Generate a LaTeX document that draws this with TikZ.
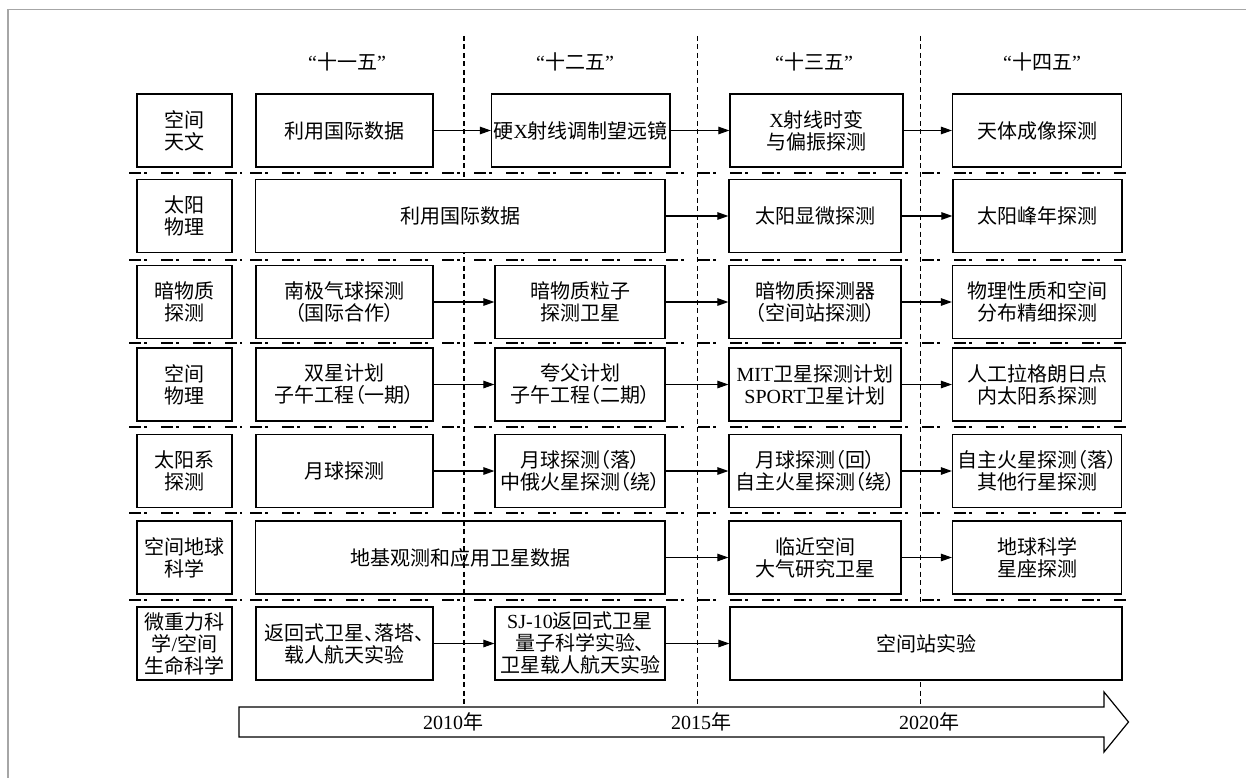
\documentclass[tikz,border=0pt]{standalone}
\usepackage{fontspec}
\setmainfont{Noto Sans CJK SC}[RawFeature={+palt}]
\newfontfamily\lat{Liberation Serif}
\usetikzlibrary{arrows.meta}
\newcommand{\fs}{\fontsize{20}{22}\selectfont}
\tikzset{
  box/.style={draw, fill=white, line width=1.2pt, minimum height=73pt, inner sep=0pt, align=center, font=\fs},
  cat/.style={box, minimum width=95pt},
  cA/.style={box, minimum width=177pt},
  cB/.style={box, minimum width=170pt},
  cC/.style={box, minimum width=172pt},
  cD/.style={box, minimum width=169pt},
  arr/.style={line width=1.1pt, -{Triangle[length=11pt,width=7.5pt]}},
  sep/.style={line width=1.1pt, dash pattern=on 12pt off 3pt on 3pt off 14pt},
  vdash/.style={line width=1.1pt, dash pattern=on 5pt off 3.5pt},
  hdr/.style={font=\fs, inner sep=0pt},
}
\begin{document}
\begin{tikzpicture}[x=1pt,y=-1pt]
\useasboundingbox (0,0) rectangle (1246,778);
\draw[black!35, line width=1.5pt] (8,778) -- (8,9.5) -- (1246,9.5);

% headers
\node[hdr] (h1) at (347,62) {{\lat “}十一五{\lat ”}};
\node[hdr] (h2) at (575,62) {{\lat “}十二五{\lat ”}};
\node[hdr] (h3) at (814,62) {{\lat “}十三五{\lat ”}};
\node[hdr] (h4) at (1042,62) {{\lat “}十四五{\lat ”}};

% vertical dashed lines
\coordinate (v1t) at (464,36);   \coordinate (v1b) at (464,707);
\coordinate (v2t) at (697.6,36); \coordinate (v2b) at (697.6,707);
\coordinate (v3t) at (920.6,36); \coordinate (v3b) at (920.6,707);
\draw[vdash] (v1t) -- (v1b);
\draw[vdash] (v2t) -- (v2b);
\draw[vdash] (v3t) -- (v3b);

% separators
\foreach \yy/\n in {173/a,260/b,343/c,427/d,513/e,600/f}{
  \coordinate (sl\n) at (129,\yy); \coordinate (sm\n) at (242,\yy);
  \coordinate (sn\n) at (250,\yy); \coordinate (sr\n) at (1128,\yy);
  \draw[sep] (sl\n) -- (sm\n);
  \draw[sep] (sn\n) -- (sr\n);
}

% row 1
\node[cat] (k1) at (184.5,130.5) {空间\\天文};
\node[cA] (r1a) at (344.5,130.5) {利用国际数据};
\node[box, minimum width=178.5pt] (r1b) at (580.75,130.5) {硬{\lat X}射线调制望远镜};
\node[cC, minimum width=173pt] (r1c) at (816.5,130.5) {{\lat X}射线时变\\与偏振探测};
\node[cD] (r1d) at (1037,130.5) {天体成像探测};

% row 2
\node[cat] (k2) at (184.5,216) {太阳\\物理};
\node[box, minimum width=409.5pt] (r2a) at (460.25,216) {利用国际数据};
\node[cC] (r2c) at (815,216) {太阳显微探测};
\node[cD] (r2d) at (1037.5,216) {太阳峰年探测};

% row 3
\node[cat] (k3) at (184.5,302) {暗物质\\探测};
\node[cA] (r3a) at (344.5,302) {南极气球探测\\（国际合作）};
\node[cB] (r3b) at (580,302) {暗物质粒子\\探测卫星};
\node[cC] (r3c) at (815,302) {暗物质探测器\\（空间站探测）};
\node[cD] (r3d) at (1037,302) {物理性质和空间\\分布精细探测};

% row 4
\node[cat] (k4) at (184.5,384.5) {空间\\物理};
\node[cA] (r4a) at (344.5,384.5) {双星计划\\子午工程（一期）};
\node[cB] (r4b) at (580,384.5) {夸父计划\\子午工程（二期）};
\node[cC] (r4c) at (815,384.5) {{\lat MIT}卫星探测计划\\{\lat SPORT}卫星计划};
\node[cD] (r4d) at (1037,384.5) {人工拉格朗日点\\内太阳系探测};

% row 5
\node[cat] (k5) at (184.5,471) {太阳系\\探测};
\node[cA] (r5a) at (344.5,471) {月球探测};
\node[cB] (r5b) at (580,471) {月球探测（落）\\中俄火星探测（绕）};
\node[cC] (r5c) at (815,471) {月球探测（回）\\自主火星探测（绕）};
\node[cD] (r5d) at (1037,471) {自主火星探测（落）\\其他行星探测};

% row 6
\node[cat] (k6) at (184.5,557.5) {空间地球\\科学};
\node[box, fill=none, minimum width=409.5pt] (r6a) at (460.25,557.5) {地基观测和应用卫星数据};
\node[cC] (r6c) at (815,557.5) {临近空间\\大气研究卫星};
\node[cD] (r6d) at (1037,557.5) {地球科学\\星座探测};

% row 7
\node[cat] (k7) at (184.5,643.5) {微重力科\\学{\lat /}空间\\生命科学};
\node[cA] (r7a) at (344.5,643.5) {返回式卫星、落塔、\\载人航天实验};
\node[cB] (r7b) at (580,643.5) {{\lat SJ-10}返回式卫星\\量子科学实验、\\卫星载人航天实验};
\node[box, minimum width=392pt] (r7c) at (926,643.5) {空间站实验};

% arrows
\draw[arr] (r1a.east) -- (r1b.west);
\draw[arr] (r1b.east) -- (r1c.west);
\draw[arr] (r1c.east) -- (r1d.west);
\draw[arr] (r2a.east) -- (r2c.west);
\draw[arr] (r2c.east) -- (r2d.west);
\draw[arr] (r3a.east) -- (r3b.west);
\draw[arr] (r3b.east) -- (r3c.west);
\draw[arr] (r3c.east) -- (r3d.west);
\draw[arr] (r4a.east) -- (r4b.west);
\draw[arr] (r4b.east) -- (r4c.west);
\draw[arr] (r4c.east) -- (r4d.west);
\draw[arr] (r5a.east) -- (r5b.west);
\draw[arr] (r5b.east) -- (r5c.west);
\draw[arr] (r5c.east) -- (r5d.west);
\draw[arr] (r6a.east) -- (r6c.west);
\draw[arr] (r6c.east) -- (r6d.west);
\draw[arr] (r7a.east) -- (r7b.west);
\draw[arr] (r7b.east) -- (r7c.west);

% timeline
\draw[line width=1.2pt, fill=white] (239,707) -- (1104,707) -- (1104,692) -- (1128.5,722) -- (1104,752) -- (1104,737) -- (239,737) -- cycle;
\node[hdr] (y1) at (453,722) {{\lat 2010}年};
\node[hdr] (y2) at (701,722) {{\lat 2015}年};
\node[hdr] (y3) at (929,722) {{\lat 2020}年};
\end{tikzpicture}
\end{document}
